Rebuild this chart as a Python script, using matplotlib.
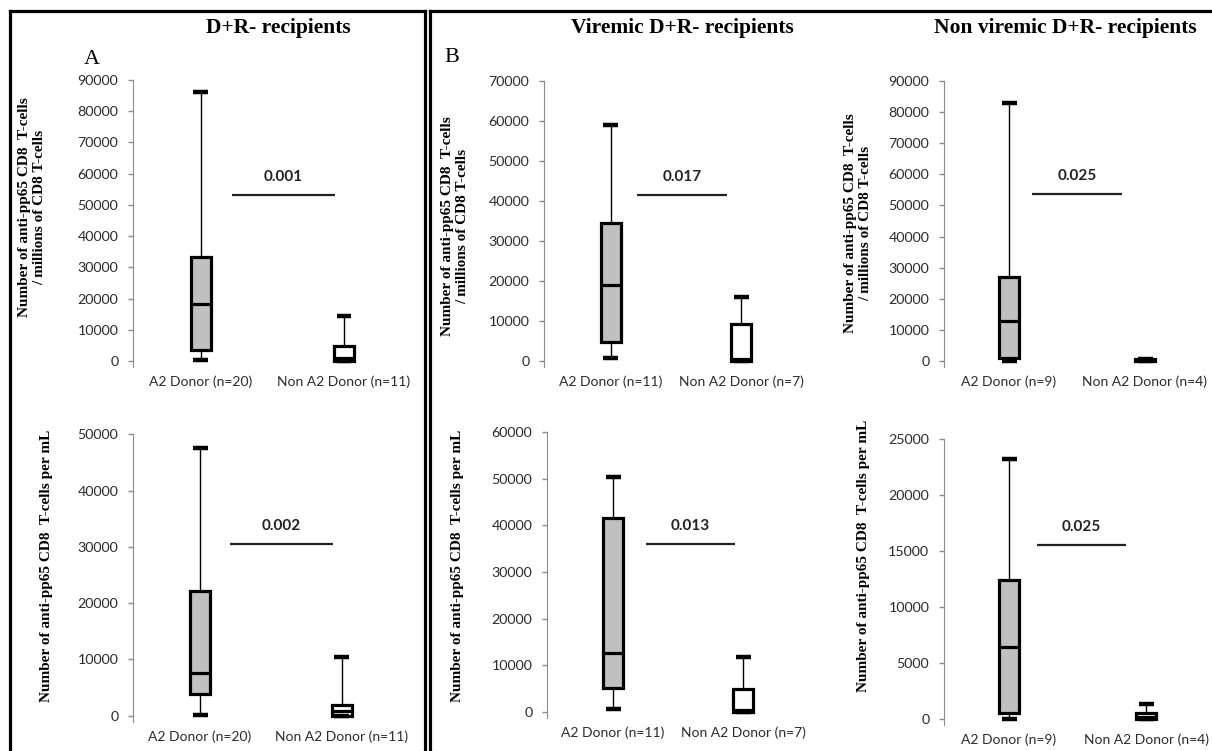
import numpy as np
import matplotlib.pyplot as plt
from matplotlib.lines import Line2D

W, H = 1212, 751

# box statistics per group: [whislo, q1, median, q3, whishi]
a_top_a2 = [300, 3500, 18100, 33400, 86000]
a_top_non = [0, 0, 1000, 4700, 14400]
a_bot_a2 = [100, 3800, 7600, 22200, 47500]
a_bot_non = [0, 0, 900, 1900, 10400]
b_top_a2 = [600, 4700, 18900, 34500, 59000]
b_top_non = [0, 0, 500, 9300, 16000]
b_bot_a2 = [500, 5100, 12500, 41700, 50500]
b_bot_non = [0, 0, 400, 4800, 11700]
c_top_a2 = [0, 1000, 12900, 27100, 83000]
c_top_non = [0, 0, 300, 600, 800]
c_bot_a2 = [0, 500, 6400, 12400, 23200]
c_bot_non = [0, 0, 200, 500, 1300]

group_names = ["A2 Donor", "Non A2 Donor"]
n_per_panel = [[20, 11], [11, 7], [9, 4]]
titles = ["D+R- recipients", "Viremic D+R- recipients", "Non viremic D+R- recipients"]
p_top = ["0.001", "0.017", "0.025"]
p_bot = ["0.002", "0.013", "0.025"]
sig_top = [53200, 41500, 53700]
sig_bot = [30500, 36000, 15500]
ymax_top = [90000, 70000, 90000]
ymax_bot = [50000, 60000, 25000]
ystep_top = [10000, 10000, 10000]
ystep_bot = [10000, 10000, 5000]

stats_top = [(a_top_a2, a_top_non), (b_top_a2, b_top_non), (c_top_a2, c_top_non)]
stats_bot = [(a_bot_a2, a_bot_non), (b_bot_a2, b_bot_non), (c_bot_a2, c_bot_non)]

ylab_top = "Number of anti-pp65 CD8  T-cells\n/ millions of CD8 T-cells"
ylab_bot = "Number of anti-pp65 CD8  T-cells per mL"

# layout in pixels: x0, x1, y of top tick, y of zero, centre of box 1, centre of box 2
lay_top = [(133, 414, 80, 361, 200.5, 344), (544, 806, 81, 360.7, 610.5, 741),
           (944, 1212, 81, 361, 1009, 1145)]
lay_bot = [(133, 414, 434.3, 715.7, 200, 342), (547, 808, 432.3, 711.7, 613, 743),
           (944, 1212, 439, 719, 1009, 1146)]
sig_x_top = [(232, 335), (637, 727), (1032, 1122)]
sig_x_bot = [(230, 333), (646, 735), (1037, 1126)]
ylab_pos_top = [(32, 207), (455, 226), (858, 223)]
ylab_pos_bot = [(47, 566), (458, 566), (863, 556)]

tick_font = "Lato"
serif = "Liberation Serif"

fig = plt.figure(figsize=(W / 100, H / 100), dpi=100)


def to_stats(vals):
    lo, q1, med, q3, hi = vals
    return dict(whislo=lo, q1=q1, med=med, q3=q3, whishi=hi)


def draw_panel(lay, stats, ymax, ystep, ns, pval, sig, sigx, ylab, labpos):
    x0, x1, ytop, yzero, c1, c2 = lay
    below = 6
    ax = fig.add_axes([x0 / W, 1 - (yzero + below) / H, (x1 - x0) / W,
                       (yzero + below - ytop) / H])
    sp = c2 - c1
    ax.set_xlim(1 + (x0 - c1) / sp, 1 + (x1 - c1) / sp)
    ax.set_ylim(-below / (yzero - ytop) * ymax, ymax)

    bx = ax.bxp([to_stats(s) for s in stats], positions=[1, 2],
                widths=20 / sp, capwidths=15 / sp, patch_artist=True,
                showfliers=False,
                boxprops=dict(linewidth=2.3, edgecolor="black"),
                whiskerprops=dict(linewidth=1.0, color="black"),
                capprops=dict(linewidth=3.2, color="black", solid_capstyle="butt"),
                medianprops=dict(linewidth=2.3, color="black", solid_capstyle="butt"))
    bx["boxes"][0].set_facecolor("#c0c0c0")
    bx["boxes"][1].set_facecolor("white")
    for a in bx["caps"] + bx["medians"] + bx["boxes"]:
        a.set_clip_on(False)

    ax.set_xticks([1, 2])
    ax.set_xticklabels([f"{g} (n={n})" for g, n in zip(group_names, ns)],
                       fontfamily=tick_font, fontsize=10.0, color="#2b2b2b")
    ax.tick_params(axis="x", length=0, pad=6)
    ax.set_yticks(np.arange(0, ymax + 1, ystep))
    ax.tick_params(axis="y", length=3.8, width=1, color="#8c8c8c", labelsize=10.3,
                   labelcolor="#2b2b2b", pad=6.8)
    for lbl in ax.get_yticklabels():
        lbl.set_fontfamily(tick_font)
    for s in ["top", "right", "bottom"]:
        ax.spines[s].set_visible(False)
    ax.spines["left"].set_color("#8c8c8c")
    ax.set_facecolor("none")

    xa = 1 + (sigx[0] - c1) / sp
    xb = 1 + (sigx[1] - c1) / sp
    ax.plot([xa, xb], [sig, sig], color="#222222", lw=1.6, solid_capstyle="butt")
    ax.annotate(pval, ((xa + xb) / 2, sig), xytext=(0, 13), textcoords="offset points",
                ha="center", va="center", fontfamily=tick_font, fontweight="bold",
                fontsize=11, color="#222222")

    fig.text(labpos[0] / W, 1 - labpos[1] / H, ylab, rotation=90, ha="center",
             va="center", multialignment="center", fontfamily=serif,
             fontweight="bold", fontsize=11, linespacing=1.2)
    return ax


for i in range(3):
    draw_panel(lay_top[i], stats_top[i], ymax_top[i], ystep_top[i], n_per_panel[i],
               p_top[i], sig_top[i], sig_x_top[i], ylab_top, ylab_pos_top[i])
    draw_panel(lay_bot[i], stats_bot[i], ymax_bot[i], ystep_bot[i], n_per_panel[i],
               p_bot[i], sig_bot[i], sig_x_bot[i], ylab_bot, ylab_pos_bot[i])

# panel titles and letters
title_x = [278, 682, 1065]
for t, x in zip(titles, title_x):
    fig.text(x / W, 1 - 28 / H, t, ha="center", va="center", fontfamily=serif,
             fontweight="bold", fontsize=15.5)
fig.text(92 / W, 1 - 60 / H, "A", ha="center", va="center", fontfamily=serif, fontsize=16)
fig.text(452 / W, 1 - 57 / H, "B", ha="center", va="center", fontfamily=serif, fontsize=16)

# frames around the two panel groups
frame = dict(color="black", lw=2.3, transform=fig.transFigure, solid_capstyle="projecting")
for xs, ys in [([9.5, 9.5], [10.5, 760]), ([9.5, 425], [10.5, 10.5]), ([425, 425], [10.5, 760]),
               ([430, 430], [10.5, 760]), ([430, 1220], [10.5, 10.5])]:
    fig.add_artist(Line2D([x / W for x in xs], [1 - y / H for y in ys], **frame))

fig.savefig("out.png", dpi=100)
